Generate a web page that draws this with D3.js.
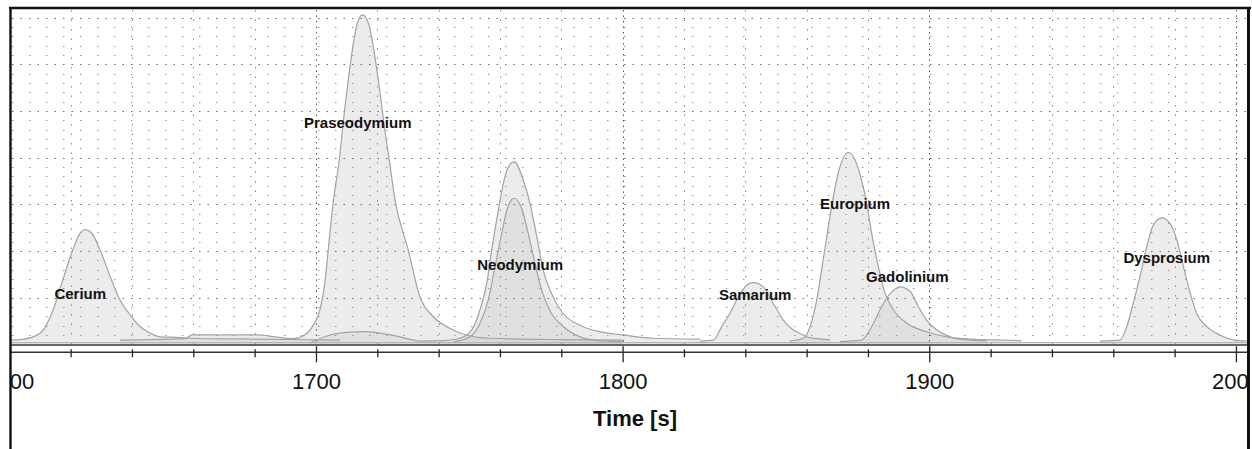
<!DOCTYPE html>
<html>
<head>
<meta charset="utf-8">
<script src="https://cdn.jsdelivr.net/npm/d3@7"></script>
<style>
body { margin: 0; background: #fff; }
svg { display: block; font-family: "Liberation Sans", Arial, sans-serif; }
</style>
</head>
<body>
<div id="chart"></div>
<script>
// retention time window [s]
var timeDomain = [1600, 2004]
var tickValues = d3.range(1600, 2001, 20)
var majorTicks = [1600, 1700, 1800, 1900, 2000]

// each trace: [time, signal] pairs
var cerium = [[1600.6,0.9],[1603.5,1.0],[1607.8,1.6],[1611.1,3.1],[1614.3,7.4],[1617.1,13.1],[1620.3,19.5],[1623.1,23.8],[1624.7,24.6],[1626.9,23.8],[1629.6,20.2],[1632.9,14.5],[1636.1,9.5],[1639.4,6.3],[1642.6,3.8],[1645.9,2.4],[1649.1,1.6],[1654.6,1.5],[1658.9,1.3],[1681.7,1.1],[1707.8,0.9]]
var praseodymium = [[1636.1,0.9],[1657.3,1.2],[1659.6,2.0],[1680.8,2.0],[1686.7,1.6],[1692.5,1.2],[1696.3,2.0],[1699.1,4.1],[1701.3,7.4],[1702.9,13.1],[1704.0,20.2],[1705.7,30.9],[1707.6,39.5],[1709.1,48.8],[1710.0,53.8],[1711.1,59.5],[1712.2,64.5],[1713.5,68.8],[1715.2,70.6],[1717.1,68.8],[1718.7,63.8],[1720.0,58.1],[1721.2,52.4],[1722.0,48.1],[1723.9,39.5],[1725.8,30.9],[1730.1,20.2],[1733.9,10.2],[1738.3,5.9],[1743.7,3.4],[1749.1,2.0],[1756.7,1.3],[1779.5,1.0],[1800.0,0.9]]
var neodymiumA = [[1698.0,0.3],[1704.6,2.0],[1711.1,2.6],[1715.3,2.7],[1720.9,2.4],[1727.4,1.6],[1733.9,0.7],[1742.0,0.8],[1747.0,1.3],[1750.8,3.1],[1753.5,7.4],[1755.7,13.1],[1757.3,20.2],[1759.5,28.8],[1761.1,34.5],[1762.6,37.8],[1764.6,39.1],[1767.6,35.2],[1769.8,30.2],[1772.0,23.1],[1774.1,15.9],[1776.8,10.9],[1780.6,6.6],[1786.1,4.1],[1792.6,2.7],[1800.2,2.0],[1809.9,1.3],[1825.2,1.1]]
var neodymiumB = [[1745.0,0.5],[1750.2,1.6],[1753.5,4.5],[1756.2,9.5],[1758.4,16.6],[1760.6,23.8],[1762.4,29.1],[1764.6,31.3],[1767.1,29.1],[1769.2,23.8],[1771.4,17.4],[1773.6,11.6],[1776.8,6.6],[1780.6,3.8],[1786.1,1.6],[1790.4,0.9],[1800.0,0.6]]
var samarium = [[1825.2,0.7],[1829.6,0.9],[1832.3,3.8],[1835.0,6.6],[1837.2,9.5],[1839.9,12.3],[1842.6,13.2],[1845.9,12.3],[1849.1,8.8],[1852.4,5.2],[1855.6,3.1],[1858.9,2.0],[1860.4,1.5],[1867.6,1.0]]
var europium = [[1854.5,0.7],[1858.9,1.3],[1860.5,2.7],[1863.3,9.5],[1865.4,18.1],[1867.6,27.3],[1870.3,36.7],[1873.6,41.1],[1875.8,39.5],[1877.9,35.2],[1879.6,30.2],[1881.2,23.8],[1883.4,16.6],[1885.6,10.9],[1888.3,7.4],[1892.7,4.5],[1899.1,2.7],[1905.7,1.6],[1913.3,1.1],[1930.0,0.8]]
var gadolinium = [[1870.8,0.6],[1877.9,0.9],[1879.6,2.0],[1881.8,4.5],[1884.5,8.1],[1887.3,10.9],[1890.5,12.3],[1893.8,11.3],[1896.4,8.1],[1899.1,5.2],[1902.4,3.1],[1906.8,1.6],[1913.3,0.9],[1918.7,0.8]]
var dysprosium = [[1955.6,0.7],[1962.2,0.9],[1964.4,3.8],[1966.5,8.8],[1968.7,14.5],[1970.9,20.9],[1973.1,25.6],[1975.8,27.1],[1978.5,25.9],[1980.7,22.4],[1982.9,16.6],[1985.1,10.9],[1987.2,6.6],[1990.5,3.8],[1994.8,2.0],[1999.7,0.9],[2004.0,0.7]]
var traces = [cerium, praseodymium, neodymiumA, neodymiumB, samarium, europium, gadolinium, dysprosium]

// peak annotations
var labelNames = ["Cerium", "Praseodymium", "Neodymium", "Samarium", "Europium", "Gadolinium", "Dysprosium"]
var labelTimes = [1614.7, 1696.1, 1752.6, 1831.4, 1864.4, 1879.4, 1963.3]
var labelValues = [9.7, 46.4, 15.9, 9.5, 28.9, 13.3, 17.4]

var width = 1252
var height = 449
var x = d3.scaleLinear().domain(timeDomain).range([9.3, 1248.2])
var y = d3.scaleLinear().domain([0, 72.06]).range([344.3, 8])

var svg = d3.select("#chart").append("svg")
	.attr("width", width)
	.attr("height", height)

svg.append("clipPath").attr("id", "plotclip")
	.append("rect").attr("x", 10).attr("y", 0).attr("width", 1237).attr("height", height)

var plot = svg.append("g").attr("clip-path", "url(#plotclip)")

var area = d3.area()
	.x(function (d) { return x(d[0]) })
	.y0(y(0))
	.y1(function (d) { return y(d[1]) })
	.curve(d3.curveMonotoneX)
var line = area.lineY1()

plot.selectAll("path.fill")
	.data(traces)
	.enter().append("path")
	.attr("class", "fill")
	.attr("d", area)
	.attr("fill", "#cfcfcf")
	.attr("fill-opacity", 0.4)

// dotted grid
var yMinor = d3.range(2, 72, 2).filter(function (v) { return v % 10 != 0 })
var yMajor = d3.range(10, 71, 10)
plot.selectAll("line.yminor").data(yMinor).enter().append("line")
	.attr("x1", 12).attr("x2", 1247)
	.attr("y1", function (d) { return Math.round(y(d)) + 0.5 })
	.attr("y2", function (d) { return Math.round(y(d)) + 0.5 })
	.attr("stroke", "#9a9a9a").attr("stroke-dasharray", "1.5,15.5")
plot.selectAll("line.ymajor").data(yMajor).enter().append("line")
	.attr("x1", 12).attr("x2", 1247)
	.attr("y1", function (d) { return Math.round(y(d)) + 0.5 })
	.attr("y2", function (d) { return Math.round(y(d)) + 0.5 })
	.attr("stroke", "#6a6a6a").attr("stroke-dasharray", "1.5,7")
plot.selectAll("line.xgrid").data(tickValues).enter().append("line")
	.attr("x1", function (d) { return Math.round(x(d)) + 0.5 })
	.attr("x2", function (d) { return Math.round(x(d)) + 0.5 })
	.attr("y1", 10).attr("y2", 344)
	.attr("stroke", function (d) { return majorTicks.indexOf(d) >= 0 ? "#555" : "#8a8a8a" })
	.attr("stroke-dasharray", function (d) { return majorTicks.indexOf(d) >= 0 ? "1.5,4" : "1.5,8" })

plot.selectAll("path.trace")
	.data(traces)
	.enter().append("path")
	.attr("class", "trace")
	.attr("d", line)
	.attr("fill", "none")
	.attr("stroke", "#a3a3a3")
	.attr("stroke-width", 1.2)

// trace baseline
plot.append("line")
	.attr("x1", 10).attr("x2", 1247)
	.attr("y1", 342.7).attr("y2", 342.7)
	.attr("stroke", "#b5b5b5").attr("stroke-width", 1.2)

plot.selectAll("text.peak")
	.data(labelNames)
	.enter().append("text")
	.attr("class", "peak")
	.attr("x", function (d, i) { return x(labelTimes[i]) })
	.attr("y", function (d, i) { return y(labelValues[i]) })
	.attr("font-size", 15)
	.attr("font-weight", "bold")
	.attr("fill", "#111")
	.text(function (d) { return d })

// plot floor and axis
plot.append("line")
	.attr("x1", 10).attr("x2", 1247).attr("y1", 345).attr("y2", 345)
	.attr("stroke", "#333").attr("stroke-width", 1.6)

var axis = plot.append("g")
	.attr("transform", "translate(0,352.3)")
	.call(d3.axisBottom(x).tickValues(tickValues).tickSizeOuter(0)
		.tickFormat(function (d) { return majorTicks.indexOf(d) >= 0 ? d : "" }))
axis.select(".domain").remove()
axis.append("line").attr("x1", 10).attr("x2", 1247).attr("y1", 0).attr("y2", 0)
	.attr("stroke", "#333").attr("stroke-width", 1.4)
axis.selectAll(".tick line")
	.attr("y1", function (d) { return majorTicks.indexOf(d) >= 0 ? -6 : -3 })
	.attr("y2", function (d) { return majorTicks.indexOf(d) >= 0 ? 10 : 5 })
	.attr("stroke", "#222").attr("stroke-width", 1.3)
axis.selectAll(".tick text")
	.attr("y", 37).attr("dy", 0)
	.attr("font-size", 22)
	.attr("font-family", "Liberation Sans, Arial, sans-serif")
	.attr("fill", "#111")

svg.append("text")
	.attr("x", 635).attr("y", 426)
	.attr("text-anchor", "middle")
	.attr("font-size", 22)
	.attr("font-weight", "bold")
	.attr("fill", "#111")
	.text("Time [s]")

// frame
svg.append("line").attr("x1", 9).attr("x2", 1251).attr("y1", 8).attr("y2", 8)
	.attr("stroke", "#111").attr("stroke-width", 2.6)
svg.append("line").attr("x1", 10.5).attr("x2", 10.5).attr("y1", 7).attr("y2", height)
	.attr("stroke", "#111").attr("stroke-width", 2.4)
svg.append("line").attr("x1", 1248.5).attr("x2", 1248.5).attr("y1", 7).attr("y2", height)
	.attr("stroke", "#111").attr("stroke-width", 3)
</script>
</body>
</html>
